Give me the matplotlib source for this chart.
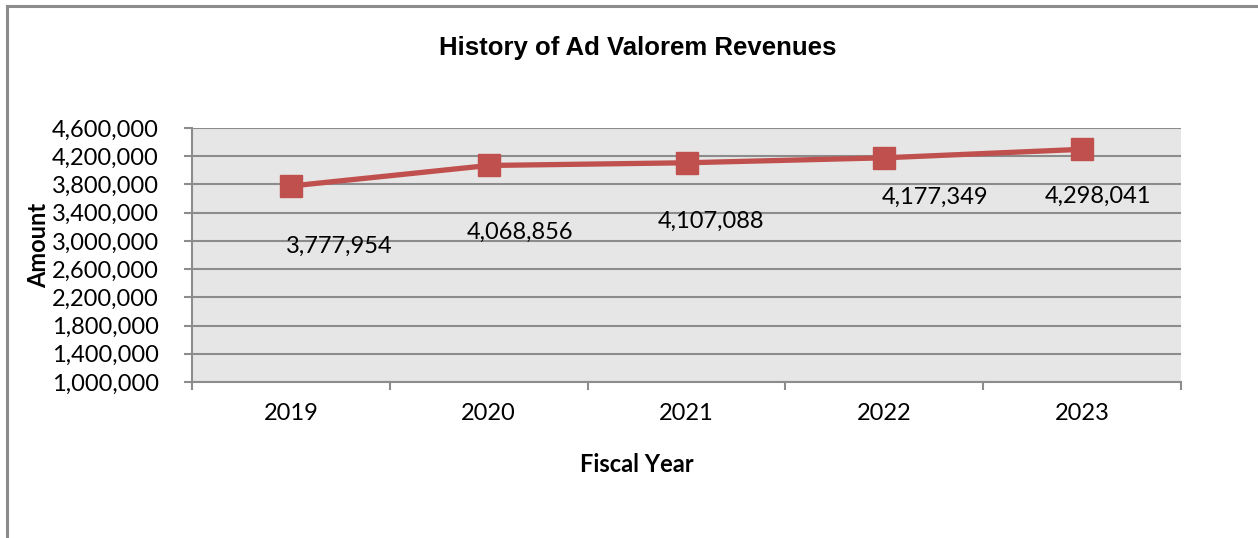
import matplotlib
matplotlib.use("Agg")
import matplotlib.pyplot as plt
from matplotlib.lines import Line2D
from matplotlib.ticker import FuncFormatter, FixedLocator

years = ['2019', '2020', '2021', '2022', '2023']
revenues = [3777954, 4068856, 4107088, 4177349, 4298041]
yticks = [1000000, 1400000, 1800000, 2200000, 2600000, 3000000,
          3400000, 3800000, 4200000, 4600000]

# where each data label sits relative to its point (pixels)
label_offsets = [(48, -60), (31, -67), (24, -59), (51, -40), (16, -47)]

W, H = 1258, 538
fig = plt.figure(figsize=(W / 100, H / 100), dpi=100)
fig.patch.set_facecolor('white')

# outer chart border (left + top only visible)
fig.add_artist(Line2D([7 / W, 7 / W], [0, 1 - 6 / H], color='#8c8c8c', lw=2.2))
fig.add_artist(Line2D([7 / W, 1], [1 - 6 / H, 1 - 6 / H], color='#8c8c8c', lw=2.2))

ax = fig.add_axes([192 / W, 1 - 382 / H, (1181 - 192) / W, (382 - 128) / H])
ax.set_facecolor('#e6e6e6')

x = list(range(len(years)))
ax.plot(x, revenues, '-s', color='#c0504d', lw=3.8, markersize=16.5,
        markerfacecolor='#c0504d', markeredgecolor='#c0504d', zorder=3)

for xi, v, (dx, dy) in zip(x, revenues, label_offsets):
    ax.annotate(f'{v:,}', (xi, v), xytext=(dx, dy), textcoords='offset pixels',
                ha='center', va='center', fontsize=17, family='Lato', color='black')

ax.set_xlim(-0.5, len(years) - 0.5)
ax.set_ylim(1000000, 4600000)
ax.set_yticks(yticks)
ax.yaxis.set_major_formatter(FuncFormatter(lambda v, p: f'{int(v):,}'))
ax.grid(axis='y', color='#8c8c8c', lw=1.5, zorder=1)
ax.set_axisbelow(True)

ax.set_xticks(x)
ax.set_xticklabels(years)
ax.xaxis.set_minor_locator(FixedLocator([i - 0.5 for i in range(len(years) + 1)]))
ax.tick_params(axis='x', which='major', length=0, pad=15, labelsize=17)
ax.tick_params(axis='x', which='minor', length=6, width=1.5, color='#8c8c8c', direction='out')
ax.tick_params(axis='y', length=6, width=1.5, color='#8c8c8c', pad=18, labelsize=17)
for lbl in ax.get_xticklabels() + ax.get_yticklabels():
    lbl.set_family('Lato')

for side in ['top', 'right']:
    ax.spines[side].set_visible(False)
for side in ['left', 'bottom']:
    ax.spines[side].set_color('#8c8c8c')
    ax.spines[side].set_linewidth(1.5)

fig.text(638 / W, 1 - 48 / H, 'History of Ad Valorem Revenues', ha='center', va='center',
         fontsize=18.5, fontweight='bold', family='Liberation Sans')
fig.text(637 / W, 1 - 465 / H, 'Fiscal Year', ha='center', va='center',
         fontsize=17, fontweight='bold', family='Lato')
fig.text(39 / W, 1 - 245 / H, 'Amount', ha='center', va='center', rotation=90,
         fontsize=17, fontweight='bold', family='Lato')

fig.savefig('out.png', dpi=100)
